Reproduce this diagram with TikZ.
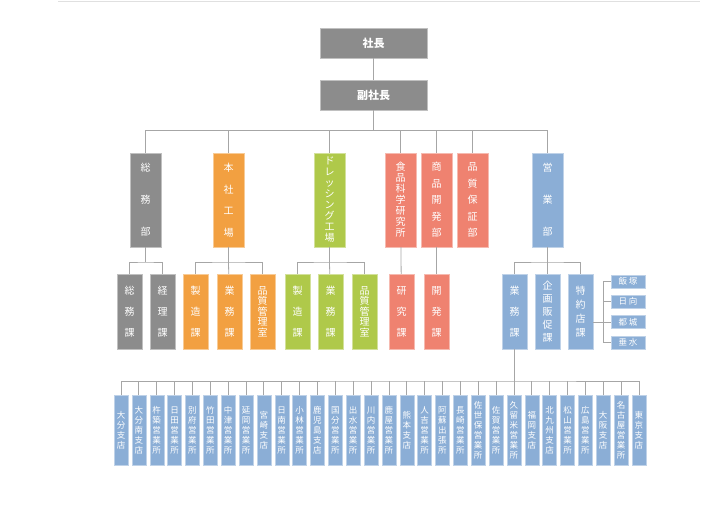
\documentclass[tikz,border=0pt]{standalone}
\usepackage{fontspec}
\setmainfont{Noto Sans CJK JP}
\XeTeXlinebreaklocale "ja"
\XeTeXlinebreakskip=0pt plus 1pt
\definecolor{cgray}{HTML}{8C8C8C}
\definecolor{corange}{HTML}{F2A041}
\definecolor{cgreen}{HTML}{AFC94A}
\definecolor{cred}{HTML}{EF8270}
\definecolor{cblue}{HTML}{8BAED6}
\tikzset{
	box/.style={fill=#1, draw=#1!55!white, text=white, inner sep=0pt, align=center},
	head/.style={box=cgray, minimum width=107, minimum height=30, font=\fontsize{11}{13}\selectfont\bfseries},
	dept/.style={box=#1, minimum width=31, minimum height=94, text width=11},
	sect/.style={box=#1, minimum width=25, minimum height=75, text width=10},
	shop/.style={box=cblue, minimum width=14, minimum height=70, text width=9, font=\fontsize{8.5}{10}\selectfont},
	tag/.style={box=cblue, minimum width=34, minimum height=13, font=\fontsize{8.5}{10}\selectfont},
	link/.style={draw=black!35, line width=0.8pt},
	sp/.style={font=\fontsize{10}{#1}\selectfont},
}
\begin{document}
\begin{tikzpicture}[x=1pt,y=-1pt]
\useasboundingbox (0,0) rectangle (725,504);
\draw[black!12] (58,1) -- (700,1);

% top
\node[head] (pres) at (373.5,43) {社長};
\node[head] (vice) at (373.5,95) {副社長};

% departments
\node[dept=cgray,sp=32] (soumu) at (145.5,200) {総務部};
\node[dept=corange,sp=21.5] (honsha) at (228.5,200) {本社工場};
\node[dept=cgreen,sp=11] (dress) at (329.5,200) {ドレッシング工場};
\node[dept=cred,sp=11] (kenkyu) at (400.5,200) {食品科学研究所};
\node[dept=cred,sp=16.5] (kaihatsu) at (436.5,200) {商品開発部};
\node[dept=cred,sp=16.5] (hosho) at (472.5,200) {品質保証部};
\node[dept=cblue,sp=32] (eigyo) at (547.5,200) {営業部};

% sections
\node[sect=cgray,sp=21] (s1) at (129.5,311.5) {総務課};
\node[sect=cgray,sp=21] (s2) at (162.5,311.5) {経理課};
\node[sect=corange,sp=21] (h1) at (195.5,311.5) {製造課};
\node[sect=corange,sp=21] (h2) at (229.5,311.5) {業務課};
\node[sect=corange,sp=10.5] (h3) at (262.5,311.5) {品質管理室};
\node[sect=cgreen,sp=21] (d1) at (297.5,311.5) {製造課};
\node[sect=cgreen,sp=21] (d2) at (330.5,311.5) {業務課};
\node[sect=cgreen,sp=10.5] (d3) at (364.5,311.5) {品質管理室};
\node[sect=cred,sp=21] (k1) at (401.5,311.5) {研究課};
\node[sect=cred,sp=21] (k2) at (436.5,311.5) {開発課};
\node[sect=cblue,sp=21] (e1) at (514.5,311.5) {業務課};
\node[sect=cblue,sp=13] (e2) at (547.5,311.5) {企画販促課};
\node[sect=cblue,sp=14] (e3) at (580.5,311.5) {特約店課};

% agencies
\foreach \t [count=\i] in {飯 塚,日 向,都 城,垂 水}
	\node[tag] (t\i) at (628,{261+\i*20.3}) {\t};

% branches
\foreach \t [count=\i] in {大分支店,大分南支店,杵築営業所,日田営業所,別府営業所,竹田営業所,中津営業所,延岡営業所,宮崎支店,日南営業所,小林営業所,鹿児島支店,国分営業所,出水営業所,川内営業所,鹿屋営業所,熊本支店,人吉営業所,阿蘇出張所,長崎営業所,佐世保営業所,佐賀営業所,久留米営業所,福岡支店,北九州支店,松山営業所,広島営業所,大阪支店,名古屋営業所,東京支店}
	\node[shop,anchor=north] (b\i) at ({121+(\i-1)*17.86},395) {\t};

% connections
\draw[link] (pres) -- (vice);
\draw[link] (vice.south) -- ++(0,20) coordinate (bus);
\draw[link] (soumu.north) |- (bus) -| (eigyo.north);
\foreach \n in {honsha,dress,kenkyu,kaihatsu,hosho}
	\draw[link] (\n.north) -- (\n.north |- bus);

\draw[link] (soumu) -- (soumu |- 0,262) coordinate (sb);
\draw[link] (s1.north) |- (sb) -| (s2.north);
\draw[link] (honsha) -- (honsha |- 0,262) coordinate (hb);
\draw[link] (h1.north) |- (hb) -| (h3.north);
\draw[link] (hb) -- (h2);
\draw[link] (dress) -- (dress |- 0,262) coordinate (db);
\draw[link] (d1.north) |- (db) -| (d3.north);
\draw[link] (db) -- (d2);
\draw[link] (kenkyu) -- (k1);
\draw[link] (kaihatsu) -- (k2);
\draw[link] (eigyo) -- (eigyo |- 0,262) coordinate (eb);
\draw[link] (e1.north) |- (eb) -| (e3.north);
\draw[link] (eb) -- (e2);

\draw[link] (t1.west) -| (603,322) coordinate (tb);
\draw[link] (t4.west) -| (tb);
\foreach \i in {2,3}
	\draw[link] (t\i.west) -- (t\i.west -| tb);
\draw[link] (e3.east |- tb) -- (tb);

\draw[link] (e1) -- (e1 |- 0,381) coordinate (bb);
\draw[link] (b1.north) |- (bb) -| (b30.north);
\foreach \i in {2,...,29}
	\draw[link] (b\i.north) -- (b\i.north |- bb);
\end{tikzpicture}
\end{document}
